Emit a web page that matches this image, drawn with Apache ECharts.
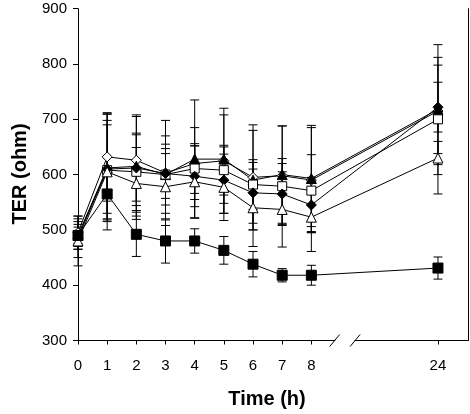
<!DOCTYPE html>
<html>
<head>
<meta charset="utf-8">
<script src="https://cdn.jsdelivr.net/npm/echarts@6/dist/echarts.min.js"></script>
<style>html,body{margin:0;padding:0;background:#fff}#c{width:470px;height:414px}</style>
</head>
<body>
<div id="c"></div>
<script>
// ---- data ----
const hours = [0, 1, 2, 3, 4, 5, 6, 7, 8, 24];
const xTickLabels = ['0', '1', '2', '3', '4', '5', '6', '7', '8', '24'];
const yTickLabels = ['300', '400', '500', '600', '700', '800', '900'];

const openDiamond      = [495, 632, 626, 603, 620, 625, 595, 598, 590, 715];
const openDiamondErr   = [30, 80, 82, 95, 65, 95, 95, 90, 95, 97];
const filledTriangle   = [490, 612, 615, 600, 628, 628, 590, 600, 593, 718];
const filledTriangleErr= [25, 97, 90, 70, 107, 80, 90, 88, 96, 80];
const openSquare       = [490, 608, 605, 600, 611, 608, 582, 579, 571, 700];
const openSquareErr    = [20, 90, 70, 55, 45, 45, 45, 50, 65, 135];
const filledDiamond    = [485, 610, 612, 602, 597, 590, 567, 565, 545, 722];
const filledDiamondErr = [35, 80, 60, 45, 55, 60, 55, 55, 50, 45];
const openTriangle     = [480, 605, 584, 578, 587, 577, 540, 537, 523, 630];
const openTriangleErr  = [45, 105, 65, 60, 65, 60, 70, 68, 62, 30];
const filledSquare     = [490, 565, 492, 480, 480, 463, 438, 418, 418, 431];
const filledSquareErr  = [15, 45, 40, 40, 22, 25, 23, 12, 18, 20];

// hour -> axis position (broken axis: 24 h drawn after the break)
const POS24 = 12.34;
function pos(h) { return h <= 8 ? h : POS24; }

const seriesDefs = [
  { name: 'open diamond', vals: openDiamond, err: openDiamondErr, symbol: 'diamond', filled: false, size: 10 },
  { name: 'filled triangle', vals: filledTriangle, err: filledTriangleErr, symbol: 'triangle', filled: true, size: 10 },
  { name: 'open square', vals: openSquare, err: openSquareErr, symbol: 'rect', filled: false, size: 9 },
  { name: 'filled diamond', vals: filledDiamond, err: filledDiamondErr, symbol: 'diamond', filled: true, size: 10 },
  { name: 'open triangle', vals: openTriangle, err: openTriangleErr, symbol: 'triangle', filled: false, size: 10 },
  { name: 'filled square', vals: filledSquare, err: filledSquareErr, symbol: 'rect', filled: true, size: 10 }
];

const errData = [];
seriesDefs.forEach(s => s.vals.forEach((v, i) => errData.push([pos(hours[i]), v - s.err[i], v + s.err[i]])));

const series = [{
  type: 'custom',
  name: 'err',
  data: errData,
  z: 1,
  silent: true,
  renderItem: function (params, api) {
    const x = api.value(0), lo = api.value(1), hi = api.value(2);
    const a = api.coord([x, hi]), b = api.coord([x, lo]);
    const hw = 4.5;
    const st = { stroke: '#000', lineWidth: 1 };
    return { type: 'group', children: [
      { type: 'line', shape: { x1: a[0], y1: a[1], x2: b[0], y2: b[1] }, style: st },
      { type: 'line', shape: { x1: a[0] - hw, y1: a[1], x2: a[0] + hw, y2: a[1] }, style: st },
      { type: 'line', shape: { x1: b[0] - hw, y1: b[1], x2: b[0] + hw, y2: b[1] }, style: st }
    ]};
  }
}];
seriesDefs.forEach(s => {
  series.push({
    type: 'line',
    name: s.name,
    data: s.vals.map((v, i) => [pos(hours[i]), v]),
    symbol: s.symbol,
    symbolSize: s.size,
    showAllSymbol: true,
    z: 3,
    lineStyle: { color: '#000', width: 1 },
    itemStyle: { color: s.filled ? '#000' : '#fff', borderColor: '#000', borderWidth: 1 }
  });
});

const xTickPos = hours.map(pos);
const FONT = '"Liberation Sans", Arial, sans-serif';

const chart = echarts.init(document.getElementById('c'), null, { renderer: 'canvas' });
chart.setOption({
  animation: false,
  backgroundColor: '#fff',
  grid: { left: 78, right: 2, top: 8.7, bottom: 73.5, containLabel: false },
  xAxis: {
    type: 'value', min: 0, max: 13.37,
    axisLine: { show: true, onZero: false, lineStyle: { color: '#000', width: 1 } },
    axisTick: { show: true, length: 4, customValues: xTickPos, lineStyle: { color: '#000' } },
    axisLabel: {
      show: true, customValues: xTickPos, margin: 18,
      color: '#000', fontSize: 15, fontFamily: FONT,
      formatter: function (v) { const i = xTickPos.findIndex(p => Math.abs(p - v) < 1e-6); return i >= 0 ? xTickLabels[i] : ''; }
    },
    splitLine: { show: false }
  },
  yAxis: [{
    type: 'value', min: 300, max: 900, interval: 100,
    axisLine: { show: true, lineStyle: { color: '#000', width: 1 } },
    axisTick: { show: true, length: 5, lineStyle: { color: '#000' } },
    axisLabel: { color: '#000', fontSize: 15, fontFamily: FONT, margin: 11,
      formatter: function (v) { const i = Math.round((v - 300) / 100); return yTickLabels[i] || ''; } },
    splitLine: { show: false }
  }, {
    type: 'value', min: 300, max: 900, interval: 100, position: 'right',
    axisLine: { show: true, lineStyle: { color: '#000', width: 1 } },
    axisTick: { show: false }, axisLabel: { show: false }, splitLine: { show: false }
  }],
  series: series
});

// axis break marks and titles
const pL = chart.convertToPixel({ xAxisIndex: 0, yAxisIndex: 0 }, [8.8, 300]);
const pR = chart.convertToPixel({ xAxisIndex: 0, yAxisIndex: 0 }, [9.5, 300]);
const ay = pL[1];
chart.setOption({
  graphic: [
    { type: 'rect', shape: { x: pL[0] + 0.5, y: ay - 2, width: pR[0] - pL[0] - 1, height: 4 }, style: { fill: '#fff' }, z: 100 },
    { type: 'line', shape: { x1: pL[0] - 5, y1: ay + 6, x2: pL[0] + 5, y2: ay - 6 }, style: { stroke: '#000', lineWidth: 1 }, z: 101 },
    { type: 'line', shape: { x1: pR[0] - 5, y1: ay + 6, x2: pR[0] + 5, y2: ay - 6 }, style: { stroke: '#000', lineWidth: 1 }, z: 101 },
    { type: 'text', x: 267, y: 399, style: { text: 'Time (h)', font: 'bold 20px ' + FONT, fill: '#000', align: 'center', verticalAlign: 'middle' }, z: 101 },
    { type: 'text', x: 20, y: 174, rotation: Math.PI / 2, style: { text: 'TER (ohm)', font: 'bold 20px ' + FONT, fill: '#000', align: 'center', verticalAlign: 'middle' }, z: 101 }
  ]
});
</script>
</body>
</html>
